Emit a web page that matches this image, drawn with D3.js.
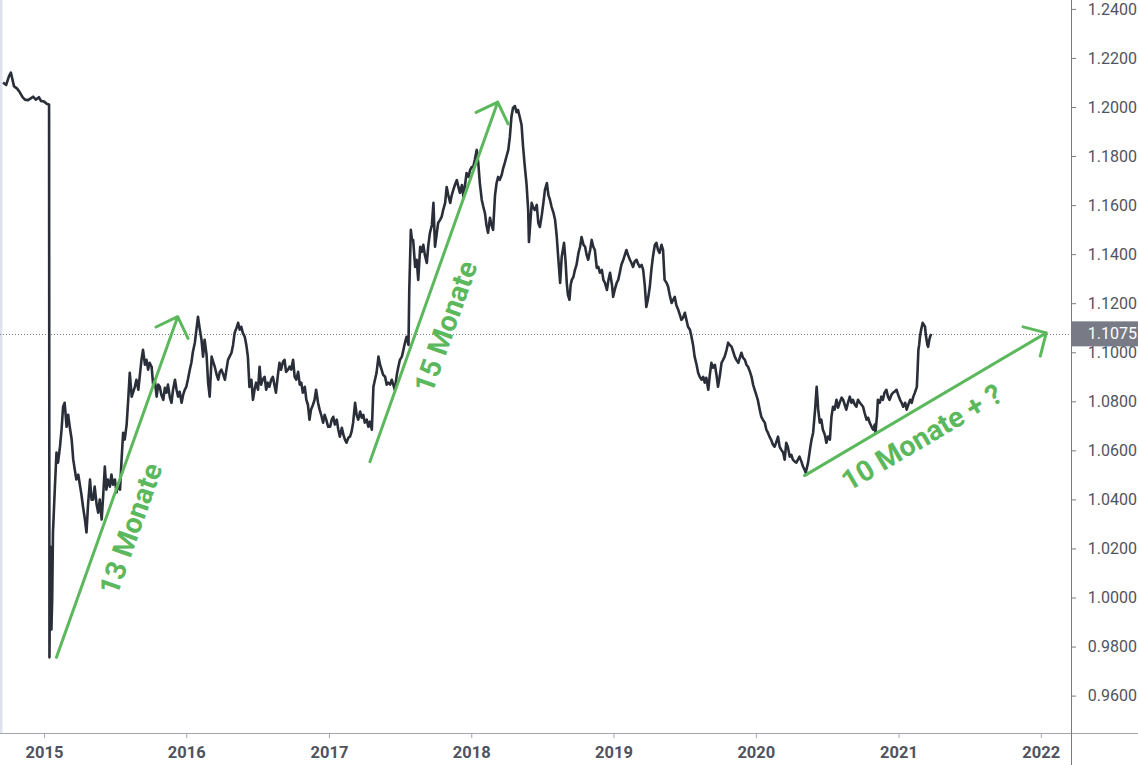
<!DOCTYPE html>
<html><head><meta charset="utf-8">
<script src="https://cdn.jsdelivr.net/npm/d3@7"></script>
<style>
html,body{margin:0;padding:0;background:#fff;}
svg{display:block;font-family:Roboto,"Noto Sans",sans-serif;}
</style></head>
<body>
<svg id="chart" width="1138" height="765"></svg>
<script>
// ---- DATA (EUR/CHF) ----
const priceDates = [
 "2014-09-18","2014-09-26","2014-10-03","2014-10-08","2014-10-16","2014-10-24","2014-10-31","2014-11-07","2014-11-13","2014-11-21","2014-11-28","2014-12-04","2014-12-11","2014-12-19","2014-12-24",
 "2015-01-01","2015-01-09","2015-01-14","2015-01-15","2015-01-17","2015-01-20","2015-01-22","2015-01-24","2015-01-29","2015-02-02","2015-02-06","2015-02-11","2015-02-15","2015-02-19","2015-02-23","2015-02-28","2015-03-04","2015-03-08","2015-03-13","2015-03-17","2015-03-21","2015-03-25","2015-03-30","2015-04-03","2015-04-07","2015-04-11","2015-04-16","2015-04-20","2015-04-24","2015-04-29","2015-05-03","2015-05-07","2015-05-11","2015-05-16","2015-05-20","2015-05-24","2015-05-29","2015-06-02","2015-06-06","2015-06-10","2015-06-14","2015-06-19","2015-06-23","2015-06-27","2015-07-02","2015-07-06","2015-07-10","2015-07-15","2015-07-19","2015-07-23","2015-07-27","2015-08-01","2015-08-05","2015-08-09","2015-08-14","2015-08-18","2015-08-22","2015-08-26","2015-08-31","2015-09-04","2015-09-08","2015-09-12","2015-09-17","2015-09-21","2015-09-25","2015-09-29","2015-10-04","2015-10-08","2015-10-12","2015-10-17","2015-10-21","2015-10-25","2015-10-29","2015-11-03","2015-11-07","2015-11-11","2015-11-15","2015-11-20","2015-11-24","2015-11-28","2015-12-03","2015-12-07","2015-12-11","2015-12-15","2015-12-20","2015-12-24","2015-12-28",
 "2016-01-01","2016-01-05","2016-01-10","2016-01-14","2016-01-18","2016-01-23","2016-01-27","2016-01-31","2016-02-04","2016-02-09","2016-02-13","2016-02-17","2016-02-22","2016-02-26","2016-03-01","2016-03-06","2016-03-10","2016-03-14","2016-03-19","2016-03-23","2016-03-27","2016-03-31","2016-04-05","2016-04-09","2016-04-13","2016-04-17","2016-04-21","2016-04-26","2016-04-30","2016-05-04","2016-05-09","2016-05-13","2016-05-17","2016-05-21","2016-05-25","2016-05-30","2016-06-03","2016-06-07","2016-06-11","2016-06-16","2016-06-20","2016-06-24","2016-06-28","2016-07-03","2016-07-07","2016-07-11","2016-07-15","2016-07-20","2016-07-24","2016-07-28","2016-08-01","2016-08-06","2016-08-10","2016-08-14","2016-08-18","2016-08-23","2016-08-27","2016-08-31","2016-09-05","2016-09-09","2016-09-13","2016-09-18","2016-09-22","2016-09-26","2016-10-01","2016-10-05","2016-10-09","2016-10-14","2016-10-18","2016-10-22","2016-10-26","2016-10-31","2016-11-04","2016-11-08","2016-11-12","2016-11-16","2016-11-21","2016-11-25","2016-11-29","2016-12-04","2016-12-08","2016-12-12","2016-12-17","2016-12-21","2016-12-25","2016-12-30",
 "2017-01-04","2017-01-08","2017-01-12","2017-01-16","2017-01-21","2017-01-25","2017-01-29","2017-02-03","2017-02-07","2017-02-11","2017-02-15","2017-02-20","2017-02-24","2017-02-28","2017-03-04","2017-03-09","2017-03-13","2017-03-17","2017-03-22","2017-03-26","2017-03-30","2017-04-03","2017-04-08","2017-04-12","2017-04-16","2017-04-21","2017-04-25","2017-04-29","2017-05-03","2017-05-08","2017-05-12","2017-05-16","2017-05-20","2017-05-25","2017-05-29","2017-06-02","2017-06-07","2017-06-11","2017-06-15","2017-06-19","2017-06-24","2017-06-28","2017-07-02","2017-07-07","2017-07-11","2017-07-15","2017-07-19","2017-07-24","2017-07-26","2017-07-30","2017-08-02","2017-08-05","2017-08-10","2017-08-14","2017-08-18","2017-08-23","2017-08-27","2017-08-31","2017-09-04","2017-09-09","2017-09-13","2017-09-17","2017-09-22","2017-09-26","2017-09-30","2017-10-04","2017-10-08","2017-10-13","2017-10-17","2017-10-21","2017-10-26","2017-10-30","2017-11-03","2017-11-08","2017-11-12","2017-11-16","2017-11-20","2017-11-25","2017-11-29","2017-12-03","2017-12-08","2017-12-12","2017-12-16","2017-12-20","2017-12-25","2017-12-29",
 "2018-01-02","2018-01-06","2018-01-10","2018-01-15","2018-01-19","2018-01-23","2018-01-28","2018-02-01","2018-02-05","2018-02-09","2018-02-13","2018-02-18","2018-02-22","2018-02-26","2018-03-03","2018-03-07","2018-03-11","2018-03-15","2018-03-20","2018-03-24","2018-03-28","2018-04-01","2018-04-06","2018-04-10","2018-04-14","2018-04-18","2018-04-23","2018-04-27","2018-05-01","2018-05-06","2018-05-10","2018-05-14","2018-05-18","2018-05-23","2018-05-27","2018-05-29","2018-06-02","2018-06-05","2018-06-09","2018-06-13","2018-06-18","2018-06-22","2018-06-26","2018-07-01","2018-07-05","2018-07-09","2018-07-14","2018-07-18","2018-07-22","2018-07-26","2018-07-31","2018-08-04","2018-08-08","2018-08-12","2018-08-17","2018-08-21","2018-08-24","2018-08-27","2018-08-31","2018-09-03","2018-09-06","2018-09-10","2018-09-13","2018-09-16","2018-09-20","2018-09-24","2018-09-28","2018-10-03","2018-10-07","2018-10-11","2018-10-16","2018-10-20","2018-10-24","2018-10-28","2018-11-02","2018-11-06","2018-11-10","2018-11-14","2018-11-19","2018-11-23","2018-11-27","2018-12-02","2018-12-06","2018-12-10","2018-12-15","2018-12-19","2018-12-23","2018-12-28","2018-12-31",
 "2019-01-04","2019-01-09","2019-01-13","2019-01-17","2019-01-21","2019-01-26","2019-01-30","2019-02-03","2019-02-07","2019-02-12","2019-02-16","2019-02-20","2019-02-24","2019-03-01","2019-03-05","2019-03-09","2019-03-14","2019-03-18","2019-03-22","2019-03-26","2019-03-30","2019-04-04","2019-04-08","2019-04-12","2019-04-17","2019-04-21","2019-04-25","2019-04-29","2019-05-04","2019-05-08","2019-05-12","2019-05-17","2019-05-21","2019-05-25","2019-05-30","2019-06-03","2019-06-07","2019-06-11","2019-06-16","2019-06-20","2019-06-24","2019-06-28","2019-07-03","2019-07-07","2019-07-11","2019-07-16","2019-07-20","2019-07-24","2019-07-28","2019-08-02","2019-08-06","2019-08-10","2019-08-15","2019-08-19","2019-08-23","2019-08-27","2019-09-01","2019-09-05","2019-09-09","2019-09-13","2019-09-18","2019-09-22","2019-09-26","2019-10-01","2019-10-05","2019-10-09","2019-10-13","2019-10-18","2019-10-22","2019-10-26","2019-10-31","2019-11-04","2019-11-08","2019-11-12","2019-11-17","2019-11-21","2019-11-25","2019-11-29","2019-12-04","2019-12-08","2019-12-12","2019-12-17","2019-12-21","2019-12-25","2019-12-29",
 "2020-01-02","2020-01-06","2020-01-11","2020-01-15","2020-01-19","2020-01-24","2020-01-28","2020-02-01","2020-02-05","2020-02-09","2020-02-14","2020-02-18","2020-02-22","2020-02-27","2020-03-02","2020-03-06","2020-03-11","2020-03-15","2020-03-19","2020-03-23","2020-03-28","2020-04-01","2020-04-05","2020-04-10","2020-04-14","2020-04-18","2020-04-22","2020-04-27","2020-05-01","2020-05-05","2020-05-08","2020-05-11","2020-05-14","2020-05-20","2020-05-23","2020-05-27","2020-06-01","2020-06-05","2020-06-07","2020-06-09","2020-06-13","2020-06-17","2020-06-21","2020-06-26","2020-06-30","2020-07-04","2020-07-09","2020-07-13","2020-07-17","2020-07-21","2020-07-26","2020-07-30","2020-08-03","2020-08-08","2020-08-12","2020-08-16","2020-08-20","2020-08-25","2020-08-29","2020-09-02","2020-09-06","2020-09-11","2020-09-15","2020-09-19","2020-09-24","2020-09-28","2020-10-02","2020-10-06","2020-10-11","2020-10-15","2020-10-19","2020-10-24","2020-10-28","2020-11-01","2020-11-03","2020-11-07","2020-11-09","2020-11-14","2020-11-18","2020-11-22","2020-11-26","2020-12-01","2020-12-05","2020-12-09","2020-12-14","2020-12-18","2020-12-22","2020-12-27","2020-12-31",
 "2021-01-05","2021-01-09","2021-01-13","2021-01-18","2021-01-22","2021-01-26","2021-01-31","2021-02-04","2021-02-08","2021-02-12","2021-02-17","2021-02-19","2021-02-21","2021-02-23","2021-02-25","2021-02-28","2021-03-04","2021-03-07","2021-03-10","2021-03-12","2021-03-14","2021-03-16","2021-03-18","2021-03-21","2021-03-23","2021-03-26"
];
const priceValues = [
 1.2100,1.2090,1.2125,1.2140,1.2085,1.2075,1.2060,1.2040,1.2030,1.2028,1.2035,1.2042,1.2030,1.2040,1.2025,
 1.2022,1.2012,1.2010,0.9756,1.0208,0.9870,0.9992,1.0265,1.0452,1.0591,1.0550,1.0615,1.0684,1.0778,1.0794,1.0696,1.0745,1.0696,1.0644,1.0562,1.0521,1.0481,1.0501,1.0460,1.0420,1.0371,1.0318,1.0265,1.0379,1.0481,1.0399,1.0399,1.0452,1.0379,1.0346,1.0399,1.0318,1.0420,1.0534,1.0440,1.0481,1.0452,1.0501,1.0460,1.0481,1.0428,1.0460,1.0440,1.0562,1.0672,1.0644,1.0705,1.0806,1.0916,1.0819,1.0839,1.0859,1.0888,1.0847,1.0908,1.0969,1.1010,1.0949,1.0969,1.0929,1.0957,1.0941,1.0868,1.0888,1.0819,1.0868,1.0859,1.0827,1.0806,1.0855,1.0835,1.0868,1.0815,1.0794,1.0847,1.0888,1.0847,1.0819,1.0839,1.0794,1.0827,1.0847,
 1.0859,1.0888,1.0929,1.0957,1.1002,1.1039,1.1092,1.1145,1.1100,1.1051,1.0982,1.1051,1.0990,1.0876,1.0819,1.0982,1.0961,1.0941,1.0908,1.0888,1.0920,1.0929,1.0908,1.0888,1.0929,1.0969,1.0982,1.0998,1.1030,1.1079,1.1100,1.1120,1.1092,1.1104,1.1079,1.1063,1.1030,1.0982,1.0859,1.0888,1.0806,1.0847,1.0876,1.0847,1.0941,1.0868,1.0888,1.0900,1.0847,1.0876,1.0859,1.0888,1.0900,1.0868,1.0835,1.0908,1.0957,1.0929,1.0961,1.0969,1.0920,1.0929,1.0941,1.0929,1.0969,1.0900,1.0888,1.0920,1.0868,1.0876,1.0835,1.0859,1.0806,1.0786,1.0725,1.0766,1.0786,1.0806,1.0847,1.0794,1.0766,1.0745,1.0713,1.0745,1.0725,1.0696,
 1.0696,1.0725,1.0737,1.0705,1.0725,1.0684,1.0656,1.0692,1.0664,1.0644,1.0631,1.0652,1.0656,1.0676,1.0713,1.0794,1.0745,1.0725,1.0758,1.0733,1.0745,1.0713,1.0725,1.0696,1.0717,1.0684,1.0859,1.0888,1.0916,1.0982,1.0949,1.0929,1.0908,1.0900,1.0868,1.0876,1.0868,1.0888,1.0868,1.0847,1.0908,1.0941,1.0969,1.0982,1.1010,1.1039,1.1063,1.1030,1.1254,1.1499,1.1458,1.1458,1.1348,1.1377,1.1295,1.1430,1.1409,1.1438,1.1397,1.1364,1.1438,1.1487,1.1519,1.1609,1.1430,1.1478,1.1527,1.1540,1.1552,1.1580,1.1609,1.1674,1.1641,1.1609,1.1641,1.1662,1.1682,1.1702,1.1674,1.1650,1.1682,1.1633,1.1682,1.1731,1.1715,1.1743,
 1.1755,1.1755,1.1784,1.1825,1.1772,1.1690,1.1621,1.1593,1.1568,1.1519,1.1487,1.1548,1.1519,1.1499,1.1641,1.1690,1.1715,1.1703,1.1723,1.1751,1.1772,1.1796,1.1825,1.1878,1.1959,1.1996,1.2004,1.1979,1.1988,1.1955,1.1927,1.1837,1.1764,1.1682,1.1580,1.1450,1.1540,1.1609,1.1589,1.1580,1.1601,1.1527,1.1511,1.1560,1.1609,1.1662,1.1690,1.1641,1.1621,1.1593,1.1568,1.1540,1.1478,1.1389,1.1283,1.1389,1.1417,1.1446,1.1369,1.1283,1.1234,1.1214,1.1275,1.1295,1.1307,1.1336,1.1356,1.1405,1.1430,1.1470,1.1438,1.1430,1.1397,1.1377,1.1417,1.1458,1.1430,1.1417,1.1344,1.1348,1.1324,1.1336,1.1295,1.1283,1.1254,1.1295,1.1324,1.1275,1.1226,
 1.1254,1.1283,1.1295,1.1324,1.1356,1.1377,1.1397,1.1417,1.1397,1.1377,1.1364,1.1348,1.1369,1.1377,1.1360,1.1348,1.1356,1.1336,1.1275,1.1185,1.1214,1.1267,1.1336,1.1389,1.1438,1.1446,1.1417,1.1405,1.1438,1.1417,1.1295,1.1283,1.1267,1.1234,1.1201,1.1214,1.1226,1.1193,1.1173,1.1153,1.1132,1.1140,1.1161,1.1132,1.1104,1.1092,1.1063,1.1030,1.0982,1.0949,1.0916,1.0900,1.0888,1.0900,1.0876,1.0896,1.0847,1.0908,1.0957,1.0937,1.0949,1.0908,1.0859,1.0908,1.0957,1.0969,1.0982,1.1010,1.1039,1.1030,1.1022,1.1002,1.0982,1.0969,1.0957,1.0978,1.0998,1.0978,1.0969,1.0949,1.0941,1.0920,1.0900,1.0868,1.0847,
 1.0827,1.0806,1.0766,1.0737,1.0725,1.0713,1.0684,1.0672,1.0656,1.0644,1.0623,1.0615,1.0631,1.0656,1.0615,1.0603,1.0591,1.0562,1.0631,1.0615,1.0574,1.0582,1.0562,1.0554,1.0550,1.0562,1.0574,1.0554,1.0534,1.0521,1.0509,1.0529,1.0550,1.0615,1.0644,1.0672,1.0766,1.0859,1.0815,1.0766,1.0713,1.0725,1.0684,1.0664,1.0631,1.0656,1.0644,1.0737,1.0778,1.0766,1.0806,1.0774,1.0794,1.0815,1.0806,1.0786,1.0766,1.0798,1.0819,1.0794,1.0806,1.0786,1.0778,1.0806,1.0794,1.0786,1.0778,1.0753,1.0725,1.0733,1.0713,1.0696,1.0684,1.0705,1.0672,1.0745,1.0806,1.0794,1.0819,1.0806,1.0835,1.0847,1.0819,1.0806,1.0827,1.0835,1.0839,1.0847,1.0827,
 1.0806,1.0794,1.0778,1.0794,1.0766,1.0786,1.0806,1.0794,1.0819,1.0835,1.0859,1.0929,1.1010,1.1030,1.1063,1.1092,1.1120,1.1112,1.1104,1.1071,1.1051,1.1030,1.1022,1.1051,1.1063,1.1075
];
const yTickValues = [0.96,0.98,1.00,1.02,1.04,1.06,1.08,1.10,1.12,1.14,1.16,1.18,1.20,1.22,1.24];
const xTickYears = ["2015","2016","2017","2018","2019","2020","2021","2022"];
// annotations: [date, value]
const arrowStarts = [["2015-02-02",0.9756],["2017-04-16",1.0554],["2020-05-05",1.0497]];
const arrowEnds   = [["2015-12-10",1.1145],["2018-03-10",1.2020],["2022-01-15",1.1079]];
const labelTexts  = ["13 Monate","15 Monate","10 Monate + ?"];
const labelAnchors = [["2015-08-12",1.0280],["2017-10-28",1.1104],["2021-03-02",1.0652]];

// ---- CHART ----
const W = 1138, H = 765;
const axisX = 1071, axisY = 733;
const parse = d3.utcParse("%Y-%m-%d");
const series = priceDates.map((d,i)=>({date:parse(d), v:priceValues[i]}));
const lastPrice = priceValues[priceValues.length-1];

const x = d3.scaleUtc().domain([parse("2015-01-01"), parse("2022-01-01")]).range([44, 1040.8]);
const y = d3.scaleLinear().domain([0.96, 1.24]).range([695.6, 8.9]);

const svg = d3.select("#chart");
svg.append("rect").attr("width",W).attr("height",H).attr("fill","#fff");

svg.append("defs").append("clipPath").attr("id","plot")
  .append("rect").attr("x",0).attr("y",0).attr("width",axisX).attr("height",axisY);

// left border
svg.append("rect").attr("x",0).attr("y",0).attr("width",2.5).attr("height",axisY).attr("fill","#e0e3eb");

// last price dotted line
svg.append("line").attr("x1",0).attr("x2",axisX)
  .attr("y1",Math.round(y(lastPrice))+0.5).attr("y2",Math.round(y(lastPrice))+0.5)
  .attr("stroke","#787b86").attr("stroke-width",1).attr("stroke-dasharray","1,2");

// price line
svg.append("path").datum(series)
  .attr("clip-path","url(#plot)")
  .attr("fill","none").attr("stroke","#2a2e39").attr("stroke-width",2.6)
  .attr("stroke-linejoin","round")
  .attr("d", d3.line().x(d=>x(d.date)).y(d=>y(d.v)));

// annotations
const green = "#5cb85c";
const ann = svg.append("g");
arrowStarts.forEach((s,i)=>{
  const e = arrowEnds[i];
  const x1 = x(parse(s[0])), y1 = y(s[1]), x2 = x(parse(e[0])), y2 = y(e[1]);
  const ang = Math.atan2(y2-y1, x2-x1);
  const L = 24, spread = Math.PI/4;
  const p = d3.path();
  p.moveTo(x1,y1); p.lineTo(x2,y2);
  p.moveTo(x2 - L*Math.cos(ang-spread), y2 - L*Math.sin(ang-spread));
  p.lineTo(x2,y2);
  p.lineTo(x2 - L*Math.cos(ang+spread), y2 - L*Math.sin(ang+spread));
  ann.append("path").attr("d",p.toString()).attr("fill","none")
    .attr("stroke",green).attr("stroke-width",3).attr("stroke-linecap","round").attr("stroke-linejoin","round");
  const la = labelAnchors[i];
  ann.append("text")
    .attr("transform",`translate(${x(parse(la[0]))},${y(la[1])}) rotate(${ang*180/Math.PI})`)
    .attr("text-anchor","middle").attr("dominant-baseline","central")
    .attr("fill",green).attr("font-size",28.5).attr("font-weight",700)
    .text(labelTexts[i]);
});

// x axis
svg.append("line").attr("x1",0).attr("x2",W).attr("y1",axisY+0.5).attr("y2",axisY+0.5)
  .attr("stroke","#a3a6af").attr("stroke-width",1);
const xAxis = svg.append("g").attr("transform",`translate(0,${axisY})`)
  .call(d3.axisBottom(x).tickValues(xTickYears.map(t=>parse(t+"-01-01"))).tickSize(5).tickFormat(d3.utcFormat("%Y")));
xAxis.select(".domain").remove();
xAxis.selectAll(".tick line").attr("stroke","#a3a6af");
xAxis.selectAll(".tick text").attr("y",25).attr("dy",0).attr("fill","#50535e")
  .attr("font-size",16.5).attr("font-weight",700).attr("font-family","Roboto,sans-serif");

// y axis
svg.append("line").attr("x1",axisX+0.5).attr("x2",axisX+0.5).attr("y1",0).attr("y2",H)
  .attr("stroke","#787b86").attr("stroke-width",1);
const yAxis = svg.append("g").attr("transform",`translate(${axisX},0)`)
  .call(d3.axisRight(y).tickValues(yTickValues).tickSize(5).tickFormat(d3.format(".4f")));
yAxis.select(".domain").remove();
yAxis.selectAll(".tick line").attr("stroke","#787b86");
yAxis.selectAll(".tick text").attr("x",66).attr("text-anchor","end").attr("fill","#50535e")
  .attr("font-size",16).attr("font-family","Roboto,sans-serif");

// last price label
const ly = y(lastPrice);
svg.append("rect").attr("x",axisX).attr("y",ly-12.5).attr("width",W-axisX).attr("height",25).attr("fill","#787b86");
svg.append("text").attr("x",1137).attr("y",ly).attr("dy","0.35em").attr("text-anchor","end")
  .attr("fill","#fff").attr("font-size",16).attr("font-family","Roboto,sans-serif").text(d3.format(".4f")(lastPrice));
</script>
</body></html>
